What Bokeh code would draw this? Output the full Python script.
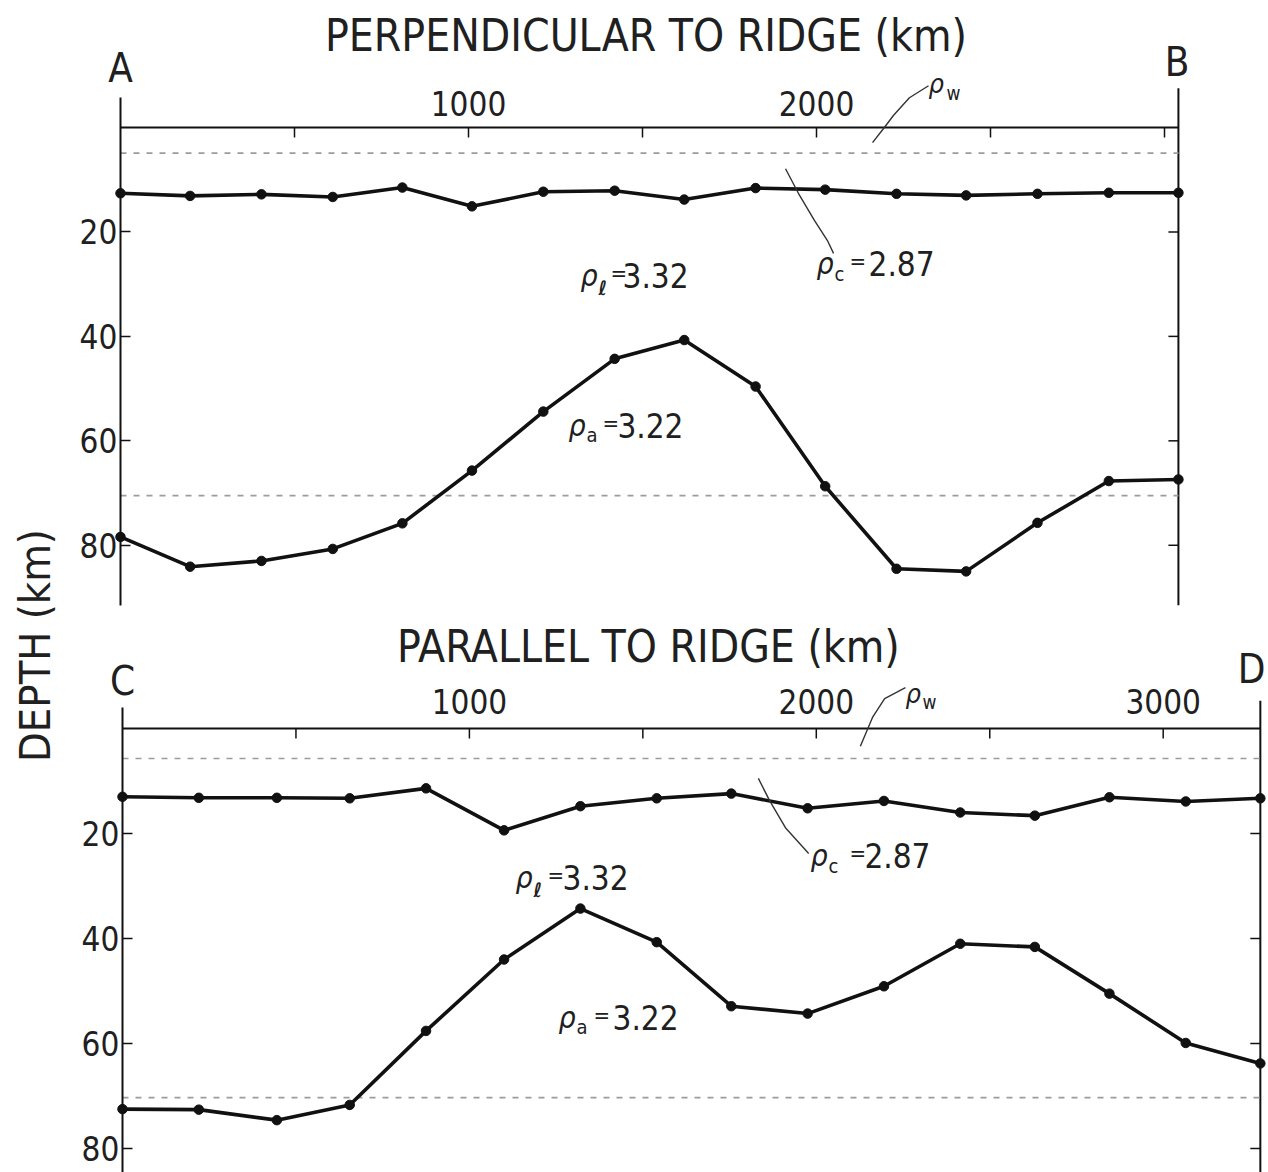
import math
from bokeh.plotting import figure
from bokeh.models import Range1d, LinearAxis, FixedTicker, Label
from bokeh.layouts import row, column
from bokeh.embed import file_html
from bokeh.resources import INLINE
from bokeh.core.properties import value

# ---------------- data ----------------
perp_km = [0, 200, 405, 610, 810, 1010, 1215, 1420, 1620, 1825, 2025, 2230, 2430, 2635, 2840, 3040]
perp_crust_base = [12.6, 13.1, 12.8, 13.3, 11.5, 15.1, 12.3, 12.1, 13.8, 11.6, 11.9, 12.7, 13.0, 12.7, 12.5, 12.5]
perp_lith_base = [78.4, 84.1, 83.0, 80.7, 75.8, 65.7, 54.4, 44.3, 40.7, 49.6, 68.7, 84.5, 85.0, 75.7, 67.7, 67.4]

par_km = [0, 220, 445, 655, 875, 1100, 1320, 1540, 1755, 1975, 2195, 2415, 2630, 2845, 3065, 3280]
par_crust_base = [13.0, 13.2, 13.2, 13.3, 11.4, 19.4, 14.8, 13.3, 12.4, 15.2, 13.8, 16.0, 16.6, 13.1, 13.9, 13.3]
par_lith_base = [72.5, 72.6, 74.6, 71.7, 57.6, 44.0, 34.3, 40.7, 52.9, 54.3, 49.1, 41.0, 41.6, 50.5, 59.9, 63.8]

perp_ref_depths = [4.9, 70.5]     # dashed reference levels
par_ref_depths = [5.7, 70.3]

depth_ticks = [20, 40, 60, 80]
perp_dist_ticks = [1000, 2000]
perp_dist_minor = [500, 1500, 2500, 3000]
par_dist_ticks = [1000, 2000, 3000]
par_dist_minor = [500, 1500, 2500]

FONT = "DejaVu Sans Condensed"
INK = "#111111"
TXT = "#202020"
DASH = "#9c9c9c"
DEPTH_LABEL_PX = 33


def make_panel(height, x_start, x_end, y_bottom, y_top):
    p = figure(width=1208, height=height,
               x_range=Range1d(x_start, x_end), y_range=Range1d(y_bottom, y_top),
               x_axis_type=None, y_axis_type=None,
               output_backend="svg", toolbar_location=None,
               min_border_left=0, min_border_right=0,
               min_border_top=0, min_border_bottom=0)
    p.outline_line_color = None
    p.xgrid.visible = False
    p.ygrid.visible = False
    p.background_fill_color = "white"
    p.border_fill_color = "white"
    return p


def frame_axes(p, xmax, left_top, right_top, bottom, dist_ticks, dist_minor,
               tick_len_x, tick_len_y, label_depth):
    # depth axis at distance 0 (library axis; labels turned back to its left side)
    ax = LinearAxis(fixed_location=0, bounds=(left_top, bottom),
                    ticker=FixedTicker(ticks=depth_ticks))
    ax.axis_line_width = 2
    ax.axis_line_color = INK
    ax.major_tick_in = 0
    ax.major_tick_out = 10
    ax.major_tick_line_width = 1.5
    ax.major_tick_line_color = INK
    ax.minor_tick_line_color = None
    ax.major_label_text_font = FONT
    ax.major_label_text_font_size = f"{DEPTH_LABEL_PX}px"
    ax.major_label_text_color = TXT
    label_w = round(2 * 0.572 * DEPTH_LABEL_PX)
    ax.major_label_standoff = -(10 + 3 + label_w)
    p.add_layout(ax, "right")

    # right edge line with inward ticks
    p.segment(x0=[xmax], y0=[right_top], x1=[xmax], y1=[bottom], line_width=2, line_color=INK)
    p.segment(x0=[xmax] * len(depth_ticks), y0=depth_ticks,
              x1=[xmax - tick_len_x] * len(depth_ticks), y1=depth_ticks,
              line_width=1.5, line_color=INK)

    # distance axis along the surface (depth 0) with ticks hanging down
    p.segment(x0=[0], y0=[0], x1=[xmax], y1=[0], line_width=2, line_color=INK)
    all_ticks = dist_ticks + dist_minor
    p.segment(x0=all_ticks, y0=[0] * len(all_ticks), x1=all_ticks,
              y1=[tick_len_y] * len(all_ticks), line_width=1.5, line_color=INK)
    p.text(x=dist_ticks, y=[label_depth] * len(dist_ticks),
           text=[str(t) for t in dist_ticks], text_align="center",
           text_baseline="middle", text_font=value(FONT),
           text_font_size=value("33px"), text_color=TXT)


def lbl(p, x, y, text, size, align="left", style="normal", dx=0, dy=0):
    p.add_layout(Label(x=x, y=y, text=text, text_font=FONT,
                       text_font_size=f"{size}px", text_font_style=style,
                       text_color=TXT, text_align=align,
                       text_baseline="middle", x_offset=dx, y_offset=dy))


def rho(p, x, y, sub, num, size=33, rho_size=30, sub_size=20, sub_dx=18, eq_dx=31,
        num_dx=44, drop=9):
    """rho symbol + subscript + '=' + number; y is the centre of the main row."""
    lbl(p, x, y, "ρ", rho_size, style="italic")
    sub_dy = -(drop + 0.36 * (rho_size - sub_size))
    lbl(p, x, y, sub, sub_size, style="bold italic" if sub == "ℓ" else "normal",
        dx=sub_dx, dy=sub_dy)
    if num:
        lbl(p, x, y, "=", 22, dx=eq_dx, dy=2)
        lbl(p, x, y, num, size, dx=num_dx)


def leader(p, xs, ys):
    p.line(xs, ys, line_width=1.4, line_color="#333333")


def profiles(p, km, crust, lith, refs, xmax):
    for d in refs:
        p.segment(x0=[0], y0=[d], x1=[xmax], y1=[d], line_color=DASH,
                  line_width=1.6, line_dash="6 7")
    for series in (crust, lith):
        p.line(km, series, line_width=3.6, line_color=INK)
        p.scatter(km, series, size=9.5, color=INK)


# geometry of the two panels (pixels per km, position of km 0 / depth 0)
TOP_PXKM, TOP_PXD, TOP_X0, TOP_Y0, TOP_H = 0.348, 5.2222, 60, 127, 616
BOT_PXKM, BOT_PXD, BOT_X0, BOT_Y0, BOT_H = 0.3469, 5.25, 62, 112, 556
FIG_W = 1208

# ---------------- top panel: perpendicular to ridge ----------------
top = make_panel(TOP_H, -TOP_X0 / TOP_PXKM, (FIG_W - TOP_X0) / TOP_PXKM,
                 (TOP_H - TOP_Y0) / TOP_PXD, -TOP_Y0 / TOP_PXD)
frame_axes(top, 3040, -5.8, -7.5, 91.5, perp_dist_ticks, perp_dist_minor,
           10 / TOP_PXKM, 10 / TOP_PXD, -4.6)
profiles(top, perp_km, perp_crust_base, perp_lith_base, perp_ref_depths, 3040)
lbl(top, 1510, -17.7, "PERPENDICULAR TO RIDGE (km)", 44, align="center")
lbl(top, 0, -11.3, "A", 40, align="center")
lbl(top, 3036, -12.6, "B", 40, align="center")
rho(top, 1322, 28.4, "ℓ", "3.32", eq_dx=30, num_dx=42)
rho(top, 1287, 57.1, "a", "3.22", eq_dx=34, num_dx=49, drop=6)
rho(top, 2000, 26.1, "c", "2.87", eq_dx=33, num_dx=52, drop=7)
rho(top, 2322, -8.4, "w", "", rho_size=27, sub_size=19, sub_dx=18, drop=6)
leader(top, [2322, 2267, 2221, 2195, 2161], [-8.0, -5.7, -2.3, 0.0, 2.9])
leader(top, [1911, 1948, 1994, 2031, 2049], [7.9, 12.6, 17.8, 21.6, 24.1])

# ---------------- bottom panel: parallel to ridge ----------------
bot = make_panel(BOT_H, -BOT_X0 / BOT_PXKM, (FIG_W - BOT_X0) / BOT_PXKM,
                 (BOT_H - BOT_Y0) / BOT_PXD, -BOT_Y0 / BOT_PXD)
frame_axes(bot, 3280, -4.0, -5.3, 84.5, par_dist_ticks, par_dist_minor,
           10 / BOT_PXKM, 10 / BOT_PXD, -5.1)
profiles(bot, par_km, par_crust_base, par_lith_base, par_ref_depths, 3280)
lbl(bot, 1516, -15.7, "PARALLEL TO RIDGE (km)", 44, align="center")
lbl(bot, 0, -9.1, "C", 40, align="center")
lbl(bot, 3215, -11.3, "D", 40, align="left")
rho(bot, 1133, 28.3, "ℓ", "3.32", eq_dx=32, num_dx=47)
rho(bot, 1257, 55.1, "a", "3.22", eq_dx=35, num_dx=54, drop=6)
rho(bot, 1983, 24.1, "c", "2.87", eq_dx=39, num_dx=54, drop=7)
rho(bot, 2257, -6.7, "w", "", rho_size=27, sub_size=19, sub_dx=17, drop=6)
leader(bot, [2257, 2197, 2162, 2127], [-7.8, -5.7, -2.1, 3.4])
leader(bot, [1833, 1865, 1911, 1978], [9.5, 13.7, 18.9, 23.8])

# ---------------- shared depth label ----------------
side = figure(width=60, height=1172, x_range=Range1d(0, 60), y_range=Range1d(0, 1172),
              x_axis_type=None, y_axis_type=None, output_backend="svg",
              toolbar_location=None, min_border=0)
side.outline_line_color = None
side.xgrid.visible = False
side.ygrid.visible = False
side.add_layout(Label(x=34, y=527, text="DEPTH (km)", angle=math.pi / 2,
                      text_font=FONT, text_font_size="43px", text_color=TXT,
                      text_align="center", text_baseline="middle"))

layout = row(side, column(top, bot))
open("out.html", "w").write(file_html(layout, INLINE))
